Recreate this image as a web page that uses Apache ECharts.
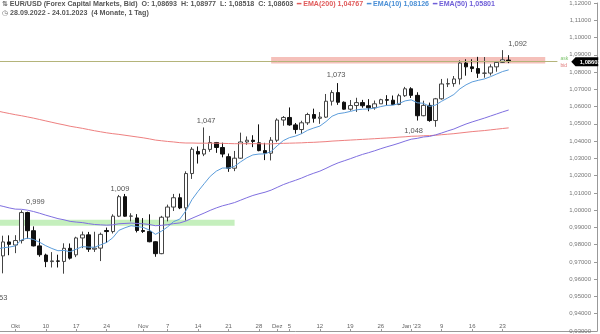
<!DOCTYPE html>
<html>
<head>
<meta charset="utf-8">
<script src="https://cdn.jsdelivr.net/npm/echarts@6/dist/echarts.min.js"></script>
<style>
  html, body { margin: 0; padding: 0; background: #fff; overflow: hidden; }
  body { position: relative; width: 600px; height: 334px; }
  /* the plot starts a few pixels left of the window so the first candle is cut */
  #chart { position: absolute; left: -6px; top: 0; width: 606px; height: 334px; }
</style>
</head>
<body>
<div id="chart"></div>
<script>
// EUR/USD daily candles (FXCM, Bid), 28.09.2022 - 24.01.2023
const dates = [
  '2022-09-28','2022-09-29','2022-09-30',
  '2022-10-03','2022-10-04','2022-10-05','2022-10-06','2022-10-07',
  '2022-10-10','2022-10-11','2022-10-12','2022-10-13','2022-10-14',
  '2022-10-17','2022-10-18','2022-10-19','2022-10-20','2022-10-21',
  '2022-10-24','2022-10-25','2022-10-26','2022-10-27','2022-10-28',
  '2022-10-31',
  '2022-11-01','2022-11-02','2022-11-03','2022-11-04',
  '2022-11-07','2022-11-08','2022-11-09','2022-11-10','2022-11-11',
  '2022-11-14','2022-11-15','2022-11-16','2022-11-17','2022-11-18',
  '2022-11-21','2022-11-22','2022-11-23','2022-11-24','2022-11-25',
  '2022-11-28','2022-11-29','2022-11-30',
  '2022-12-01','2022-12-02',
  '2022-12-05','2022-12-06','2022-12-07','2022-12-08','2022-12-09',
  '2022-12-12','2022-12-13','2022-12-14','2022-12-15','2022-12-16',
  '2022-12-19','2022-12-20','2022-12-21','2022-12-22','2022-12-23',
  '2022-12-26','2022-12-27','2022-12-28','2022-12-29','2022-12-30',
  '2023-01-02','2023-01-03','2023-01-04','2023-01-05','2023-01-06',
  '2023-01-09','2023-01-10','2023-01-11','2023-01-12','2023-01-13',
  '2023-01-16','2023-01-17','2023-01-18','2023-01-19','2023-01-20',
  '2023-01-23','2023-01-24'
];
const opens = [
  0.9591,0.9735,0.9816,
  0.9798,0.9824,0.9986,0.9881,0.9793, 0.9740,0.9702,0.9706,0.9703,0.9779,
  0.9741,0.9839,0.9857,0.9774,0.9780, 0.9882,0.9876,0.9965,1.0078,0.9965, 0.9955,
  0.9882,0.9877,0.9817,0.9748, 0.9960,1.0018,1.0072,1.0013,1.0212,
  1.0340,1.0325,1.0352,1.0392,1.0363, 1.0310,1.0243,1.0301,1.0395,1.0405, 1.0390,1.0345,1.0330,
  1.0405,1.0522, 1.0537,1.0494,1.0467,1.0506,1.0554, 1.0532,1.0539,1.0631,1.0681,1.0625,
  1.0585,1.0606,1.0623,1.0605,1.0593, 1.0616,1.0640,1.0637,1.0612,1.0663,
  1.0703,1.0665,1.0547,1.0607,1.0519, 1.0645,1.0731,1.0733,1.0760,1.0852,
  1.0830,1.0820,1.0793,1.0794,1.0830, 1.0856,1.08693
];
const highs = [
  0.9737,0.9852,0.9854,
  0.9855,0.9999,0.9991,0.9906,0.9835, 0.9748,0.9757,0.9742,0.9808,0.9807,
  0.9846,0.9876,0.9874,0.9875,0.9870, 0.9899,0.9976,1.0088,1.0094,0.9982, 0.9977,
  0.9954,0.9976,0.9820,0.9967, 1.0032,1.0094,1.0096,1.0225,1.0365,
  1.0369,1.0479,1.0430,1.0395,1.0391, 1.0328,1.0343,1.0449,1.0427,1.0434, 1.0497,1.0390,1.0423,
  1.0532,1.0545, 1.0595,1.0505,1.0518,1.0564,1.0588, 1.0568,1.0673,1.0695,1.0736,1.0630,
  1.0638,1.0651,1.0639,1.0643,1.0635, 1.0645,1.0666,1.0664,1.0674,1.0714,
  1.0712,1.0683,1.0634,1.0623,1.0650, 1.0760,1.0763,1.0777,1.0868,1.0874,
  1.0874,1.0888,1.0887,1.0845,1.0860, 1.0927,1.08977
];
const lows = [
  0.9536,0.9634,0.9739,
  0.9751,0.9807,0.9835,0.9790,0.9730, 0.9670,0.9668,0.9668,0.9632,0.9714,
  0.9728,0.9780,0.9758,0.9758,0.9705, 0.9810,0.9865,0.9960,0.9962,0.9935, 0.9871,
  0.9868,0.9814,0.9730,0.9745, 0.9935,0.9995,1.0006,0.9940,1.0181,
  1.0270,1.0313,1.0338,1.0332,1.0306, 1.0222,1.0226,1.0297,1.0379,1.0365, 1.0341,1.0290,1.0288,
  1.0394,1.0489, 1.0489,1.0443,1.0442,1.0494,1.0507, 1.0500,1.0534,1.0606,1.0610,1.0582,
  1.0576,1.0569,1.0593,1.0573,1.0582, 1.0616,1.0607,1.0609,1.0608,1.0656,
  1.0650,1.0519,1.0544,1.0512,1.0483, 1.0640,1.0713,1.0715,1.0728,1.0779,
  1.0800,1.0766,1.0767,1.0780,1.0802, 1.0853,1.08518
];
const closes = [
  0.9735,0.9816,0.9802,
  0.9824,0.9986,0.9881,0.9793,0.9742, 0.9702,0.9706,0.9704,0.9779,0.9722,
  0.9839,0.9857,0.9774,0.9780,0.9860, 0.9876,0.9965,1.0078,0.9965,0.9966, 0.9882,
  0.9877,0.9817,0.9748,0.9959, 1.0018,1.0072,1.0013,1.0212,1.0353,
  1.0325,1.0352,1.0392,1.0363,1.0325, 1.0243,1.0301,1.0395,1.0405,1.0398, 1.0345,1.0330,1.0405,
  1.0522,1.0537, 1.0494,1.0467,1.0506,1.0554,1.0532, 1.0539,1.0631,1.0681,1.0625,1.0585,
  1.0606,1.0623,1.0605,1.0593,1.0616, 1.0640,1.0637,1.0612,1.0663,1.0703,
  1.0665,1.0547,1.0607,1.0519,1.0645, 1.0731,1.0733,1.0760,1.0852,1.0830,
  1.0820,1.0793,1.0794,1.0830,1.0856, 1.0871,1.08603
];

// Moving averages, one value per candle
const ema10 = [
  0.9775,0.9782,0.9786,0.9793,0.9828,0.9838,0.9830,0.9814,0.9794,0.9778,
  0.9765,0.9767,0.9759,0.9774,0.9789,0.9786,0.9785,0.9799,0.9813,0.9840,
  0.9883,0.9898,0.9910,0.9905,0.9900,0.9885,0.9860,0.9878,0.9903,0.9934,
  0.9948,0.9996,1.0061,1.0109,1.0153,1.0196,1.0226,1.0244,1.0244,1.0254,
  1.0280,1.0303,1.0320,1.0325,1.0326,1.0340,1.0373,1.0403,1.0420,1.0429,
  1.0443,1.0463,1.0476,1.0487,1.0513,1.0544,1.0559,1.0564,1.0572,1.0581,
  1.0585,1.0586,1.0591,1.0600,1.0607,1.0608,1.0618,1.0633,1.0639,1.0622,
  1.0619,1.0601,1.0609,1.0631,1.0650,1.0670,1.0703,1.0726,1.0743,1.0752,
  1.0760,1.0773,1.0788,1.0803,1.08126
];
const ema50 = [
  1.0030,1.0022,1.0013,1.0006,1.0005,1.0000,0.9992,0.9982,0.9971,0.9961,
  0.9951,0.9944,0.9935,0.9931,0.9928,0.9922,0.9917,0.9915,0.9913,0.9915,
  0.9921,0.9923,0.9925,0.9923,0.9921,0.9917,0.9910,0.9912,0.9916,0.9922,
  0.9926,0.9937,0.9953,0.9968,0.9983,0.9999,1.0013,1.0025,1.0034,1.0044,
  1.0058,1.0072,1.0085,1.0095,1.0104,1.0116,1.0132,1.0148,1.0161,1.0173,
  1.0186,1.0201,1.0214,1.0226,1.0242,1.0259,1.0274,1.0286,1.0298,1.0311,
  1.0323,1.0333,1.0344,1.0356,1.0367,1.0377,1.0388,1.0400,1.0411,1.0416,
  1.0424,1.0427,1.0436,1.0447,1.0459,1.0470,1.0485,1.0499,1.0511,1.0522,
  1.0533,1.0545,1.0557,1.0569,1.05801
];
const ema200 = [
  1.0575,1.0567,1.0560,1.0553,1.0547,1.0540,1.0533,1.0525,1.0517,1.0509,
  1.0501,1.0494,1.0486,1.0480,1.0474,1.0467,1.0460,1.0454,1.0448,1.0443,
  1.0439,1.0434,1.0429,1.0424,1.0419,1.0413,1.0406,1.0402,1.0398,1.0395,
  1.0391,1.0389,1.0389,1.0388,1.0388,1.0388,1.0388,1.0387,1.0386,1.0385,
  1.0385,1.0385,1.0385,1.0385,1.0384,1.0384,1.0386,1.0387,1.0388,1.0389,
  1.0390,1.0392,1.0393,1.0395,1.0397,1.0400,1.0402,1.0404,1.0406,1.0408,
  1.0410,1.0412,1.0414,1.0416,1.0418,1.0420,1.0423,1.0425,1.0428,1.0429,
  1.0431,1.0432,1.0434,1.0437,1.0440,1.0443,1.0447,1.0451,1.0455,1.0458,
  1.0461,1.0465,1.0469,1.0473,1.04767
];

// Time axis labels (weekly, month names at month starts)
const tickDates = ['2022-10-03','2022-10-10','2022-10-17','2022-10-24','2022-11-01','2022-11-07',
  '2022-11-14','2022-11-21','2022-11-28','2022-12-01','2022-12-05','2022-12-12','2022-12-19',
  '2022-12-26','2023-01-02','2023-01-09','2023-01-16','2023-01-23'];
const tickTexts = ['Okt','10','17','24','Nov','7','14','21','28','Dez','5','12','19','26',"Jan '23",'9','16','23'];

// Price axis
const priceMin = 0.93, priceMax = 1.12, priceStep = 0.01;

// Swing highs / lows that get a price label
const swingDates = ['2022-09-28','2022-10-04','2022-10-27','2022-11-15','2022-12-15','2023-01-06','2023-01-23'];
const swingSides = ['low','high','high','high','high','low','high'];

// Support / resistance zones
const supportZone = { from: '2022-09-28', to: '2022-11-22', low: 0.9910, high: 0.9945 };
const resistanceZone = { from: '2022-11-30', low: 1.0850, high: 1.0887 };
const rangeText = '(4 Monate, 1 Tag)';

// ---- layout / style (not data) ----
const emptySlots = 14;              // free space right of the last candle
const resistanceEndSlot = 90;
const priceLineEndSlot = 92;
const priceTagSlot = 96;
const swingDx = [1, 14, -5, 2, -2, -22, 15];
const swingDy = [8, -8, -5, -7, -8, 4, -6];
const FONT = '"Liberation Sans", Arial, sans-serif';
const C_RED = '#ee8080', C_BLUE = '#5c9ddb', C_PURPLE = '#7f6fe0';

const axisCats = dates.concat(Array.from({ length: emptySlots }, (_, k) => '+' + (k + 1)));
const n = dates.length, last = n - 1;
const fmt5 = v => v.toFixed(5).replace('.', ',');
const fmt3 = v => (Math.floor(v * 1000 + 1e-9) / 1000).toFixed(3).replace('.', ',');
const dmy = s => s.slice(8, 10) + '.' + s.slice(5, 7) + '.' + s.slice(0, 4);

const candleData = dates.map((d, i) => [opens[i], closes[i], lows[i], highs[i]]);

const swingPoints = swingDates.map((d, k) => {
  const i = dates.indexOf(d);
  const isHigh = swingSides[k] === 'high';
  const v = isHigh ? highs[i] : lows[i];
  return {
    coord: [d, v],
    symbol: 'circle', symbolSize: 1,
    itemStyle: { color: 'rgba(0,0,0,0)' },
    label: {
      show: true, position: 'inside', formatter: fmt3(v),
      offset: [swingDx[k], swingDy[k]],
      color: '#555', fontSize: 7.5, fontFamily: FONT
    }
  };
});

// black price tag on the price axis, pointing at the last close
const priceTag = {
  coord: [axisCats[priceTagSlot], closes[last]],
  symbol: 'path://M0,5 L5,0 L32,0 L32,10 L5,10 Z',
  symbolSize: [27, 9], symbolKeepAspect: false, symbolOffset: [3, 0],
  itemStyle: { color: '#000' },
  label: {
    show: true, position: 'inside', offset: [5.5, 0.5], formatter: fmt5(closes[last]),
    color: '#fff', fontWeight: 'bold', fontSize: 5.8, fontFamily: FONT
  }
};

const header =
  '{ic|⇅} {t|EUR/USD (Forex Capital Markets, Bid)  O: ' + fmt5(opens[last]) +
  '  H: ' + fmt5(highs[last]) + '  L: ' + fmt5(lows[last]) + '  C: ' + fmt5(closes[last]) + '}' +
  '  {r|━ EMA(200) ' + fmt5(ema200[last]) + '}' +
  '  {b|━ EMA(10) ' + fmt5(ema10[last]) + '}' +
  '  {p|━ EMA(50) ' + fmt5(ema50[last]) + '}\n' +
  '{ic|◷} {t|' + dmy(dates[0]) + ' - ' + dmy(dates[last]) + '  ' + rangeText + '}';

const labelInterval = (idx, val) => tickDates.indexOf(val) >= 0;

const chart = echarts.init(document.getElementById('chart'));
chart.setOption({
  animation: false,
  backgroundColor: '#fff',
  title: {
    left: 8, top: 0, padding: 0,
    text: header,
    textStyle: {
      fontSize: 7.1, fontFamily: FONT, color: '#555', lineHeight: 9,
      rich: {
        ic: { fontSize: 7, color: '#666', fontFamily: 'DejaVu Sans', lineHeight: 9 },
        t: { fontSize: 7.1, color: '#555', fontFamily: FONT, lineHeight: 9 },
        r: { fontSize: 7.1, color: '#e05a5a', fontFamily: FONT, lineHeight: 9 },
        b: { fontSize: 7.1, color: '#4a8fd6', fontFamily: FONT, lineHeight: 9 },
        p: { fontSize: 7.1, color: '#6f5fd8', fontFamily: FONT, lineHeight: 9 }
      }
    }
  },
  grid: { left: 0, right: 3, top: 2.7, bottom: 1, containLabel: false },
  xAxis: {
    type: 'category',
    data: axisCats,
    boundaryGap: true,
    axisLine: { show: true, lineStyle: { color: '#999', width: 1 } },
    axisTick: { show: true, inside: true, length: 2, alignWithLabel: true, interval: labelInterval,
      lineStyle: { color: '#999' } },
    axisLabel: {
      show: true, inside: true, interval: labelInterval, margin: 2,
      formatter: v => tickTexts[tickDates.indexOf(v)] || '',
      color: '#666', fontSize: 6, fontFamily: FONT
    },
    splitLine: { show: false }
  },
  yAxis: {
    type: 'value', position: 'right', scale: false,
    min: priceMin, max: priceMax, interval: priceStep,
    axisLine: { show: true, lineStyle: { color: '#999', width: 1 } },
    axisTick: { show: true, inside: true, length: 3, lineStyle: { color: '#999' } },
    axisLabel: {
      show: true, inside: true, margin: 6,
      formatter: v => fmt5(v),
      color: '#777', fontSize: 6, fontFamily: FONT
    },
    splitLine: { show: false }
  },
  series: [
    {
      name: 'EUR/USD', type: 'candlestick', z: 2,
      data: candleData,
      barWidth: 4,
      itemStyle: { color: '#fff', color0: '#111', borderColor: '#444', borderColor0: '#111', borderWidth: 1 },
      markArea: {
        silent: true,
        data: [
          [
            { coord: [supportZone.from, supportZone.high], itemStyle: { color: 'rgba(150,225,135,0.55)' } },
            { coord: [supportZone.to, supportZone.low] }
          ],
          [
            { coord: [resistanceZone.from, resistanceZone.high], itemStyle: { color: 'rgba(238,150,140,0.6)' } },
            { coord: [axisCats[resistanceEndSlot], resistanceZone.low] }
          ]
        ]
      },
      markLine: {
        silent: true, symbol: ['none', 'none'],
        lineStyle: { color: '#b4b47a', width: 1, type: 'solid' },
        label: {
          show: true, position: 'end', distance: 3,
          formatter: '{a|ask}\n{b|bid}',
          rich: {
            a: { color: '#7cc46c', fontSize: 5, fontFamily: FONT, lineHeight: 7 },
            b: { color: '#e07a7a', fontSize: 5, fontFamily: FONT, lineHeight: 7 }
          }
        },
        data: [[
          { coord: [axisCats[0], closes[last]] },
          { coord: [axisCats[priceLineEndSlot], closes[last]] }
        ]]
      },
      markPoint: { silent: true, data: swingPoints.concat([priceTag]) }
    },
    {
      name: 'EMA(200)', type: 'line', z: 3, data: ema200, showSymbol: false, symbol: 'none',
      lineStyle: { color: C_RED, width: 1 }
    },
    {
      name: 'EMA(10)', type: 'line', z: 3, data: ema10, showSymbol: false, symbol: 'none',
      lineStyle: { color: C_BLUE, width: 1 }
    },
    {
      name: 'EMA(50)', type: 'line', z: 3, data: ema50, showSymbol: false, symbol: 'none',
      lineStyle: { color: C_PURPLE, width: 1 }
    }
  ]
});
</script>
</body>
</html>
